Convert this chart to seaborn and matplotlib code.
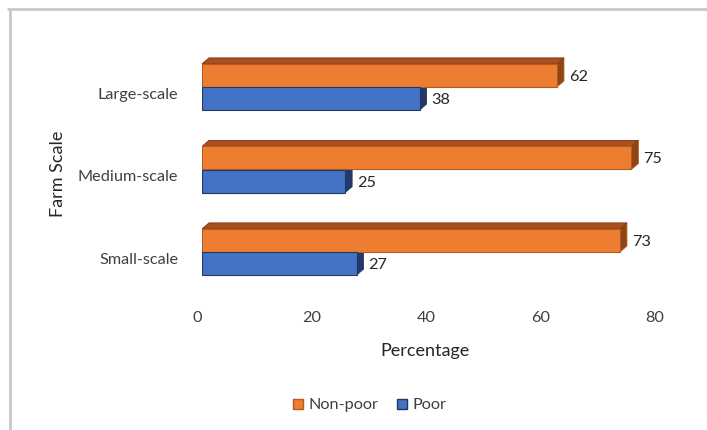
import matplotlib
matplotlib.use("Agg")
import matplotlib.pyplot as plt
import matplotlib.transforms as mtransforms
from matplotlib.patches import Polygon
from matplotlib.lines import Line2D
import seaborn as sns
import pandas as pd

# Share of households by poverty status within each farm scale
farm_scales = ["Large-scale", "Medium-scale", "Small-scale"]
non_poor = [62, 75, 73]
poor = [38, 25, 27]
series_names = ["Non-poor", "Poor"]
x_ticks = [0, 20, 40, 60, 80]

df = pd.DataFrame({
    "Farm Scale": farm_scales * 2,
    "Percentage": non_poor + poor,
    "Status": [series_names[0]] * 3 + [series_names[1]] * 3,
})

sns.set_theme(style="white")
plt.rcParams["font.family"] = ["Lato", "DejaVu Sans"]

front = {"Non-poor": "#ED7D31", "Poor": "#4472C4"}
top_col = {"Non-poor": "#A9501C", "Poor": "#2F528F"}
side_col = {"Non-poor": "#8F4416", "Poor": "#22396A"}
edge_col = {"Non-poor": "#B85A1F", "Poor": "#1F3864"}

W, H = 707, 430
fig = plt.figure(figsize=(W / 100, H / 100), dpi=100)
ax = fig.add_axes([202 / W, 1 - 293.25 / H, (660 - 202) / W, (293.25 - 45.75) / H])

sns.barplot(data=df, y="Farm Scale", x="Percentage", hue="Status",
            order=farm_scales, hue_order=series_names, palette=front,
            width=0.56, orient="h", ax=ax, saturation=1, legend=False, zorder=3)

ax.set_xlim(0, 80)
ax.set_ylim(2.5, -0.5)
ax.set_xticks(x_ticks)
for s in ax.spines.values():
    s.set_visible(False)
ax.grid(False)

# depth of the extruded bars, in pixels converted to data units
px_x = 80 / (660 - 202)
px_y = 3 / 247.5
dx, dy = 7 * px_x, -6 * px_y

tick_size = 11.7
n = len(farm_scales)
for i, bar in enumerate(ax.patches[: 2 * n]):
    status = series_names[i // n]
    bar.set_edgecolor(edge_col[status])
    bar.set_linewidth(0.8)
    x0, y0 = bar.get_x(), bar.get_y()
    w, h = bar.get_width(), bar.get_height()
    y_top, y_bot = y0, y0 + h
    # right-hand side face
    ax.add_patch(Polygon([(x0 + w, y_top), (x0 + w + dx, y_top + dy),
                          (x0 + w + dx, y_bot + dy), (x0 + w, y_bot)],
                         closed=True, facecolor=side_col[status],
                         edgecolor=edge_col[status], linewidth=0.6, zorder=2))
    # top face is only visible on the upper series
    if status == "Non-poor":
        ax.add_patch(Polygon([(x0, y_top), (x0 + dx, y_top + dy),
                              (x0 + w + dx, y_top + dy), (x0 + w, y_top)],
                             closed=True, facecolor=top_col[status],
                             edgecolor="#7A3410", linewidth=0.6, zorder=2))
    ax.annotate(f"{w:g}", xy=(x0 + w, y0 + h / 2), xytext=(12, -1.5),
                textcoords="offset pixels", ha="left", va="center",
                fontsize=tick_size, color="#262626")

ax.tick_params(axis="x", length=0, pad=13, labelsize=tick_size, labelcolor="#404040")
ax.tick_params(axis="y", length=0, pad=17, labelsize=tick_size, labelcolor="#404040")
shift_x = mtransforms.ScaledTranslation(-5 / 100, 0, fig.dpi_scale_trans)
for lab in ax.get_xticklabels():
    lab.set_transform(lab.get_transform() + shift_x)
shift_y = mtransforms.ScaledTranslation(0, -6 / 100, fig.dpi_scale_trans)
for lab in ax.get_yticklabels():
    lab.set_transform(lab.get_transform() + shift_y)

ax.set_xlabel("Percentage", fontsize=13, color="#262626")
ax.set_ylabel("Farm Scale", fontsize=13, color="#262626")
ax.yaxis.set_label_coords(66 / W, 1 - 174 / H, transform=fig.transFigure)
ax.xaxis.set_label_coords(425 / W, 1 - 343 / H, transform=fig.transFigure)

handles = [Line2D([], [], marker="s", linestyle="none", markersize=6.5,
                  markerfacecolor=front[s], markeredgecolor=edge_col[s])
           for s in series_names]
fig.legend(handles, series_names, loc="center", bbox_to_anchor=(368 / W, 1 - 405 / H),
           ncol=2, frameon=False, fontsize=tick_size, handletextpad=0.1,
           columnspacing=1.0, handlelength=1.0, labelcolor="#404040")

# chart-area frame
frame = dict(color="#C8C8C8", linewidth=2, transform=fig.transFigure)
fig.add_artist(Line2D([8 / W, 1], [1 - 9 / H, 1 - 9 / H], **frame))
fig.add_artist(Line2D([10 / W, 10 / W], [1 - 9 / H, 0], **frame))

fig.savefig("out.png", dpi=100)
